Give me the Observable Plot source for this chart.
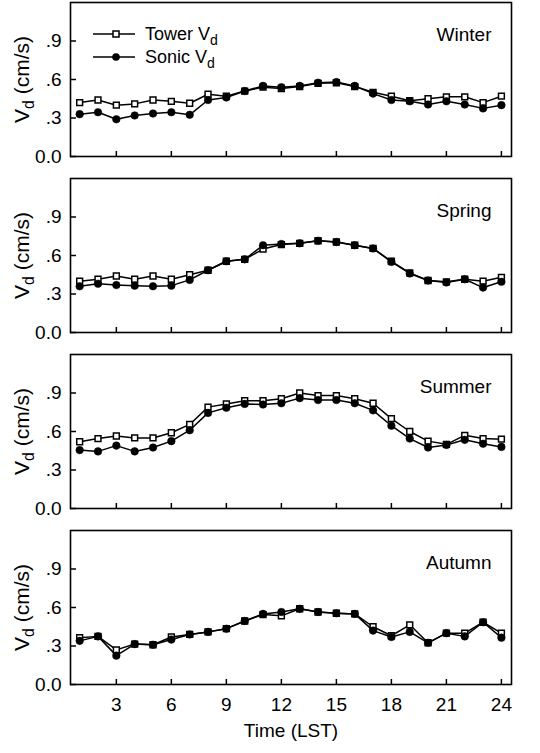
<!DOCTYPE html>
<html><head><meta charset="utf-8">
<script src="https://cdn.jsdelivr.net/npm/d3@7"></script>
<script src="https://cdn.jsdelivr.net/npm/@observablehq/plot@0.6"></script>
<style>
body{margin:0;background:#fff;}
#chart{position:relative;width:540px;}
#chart svg{display:block;}
</style></head><body><div id="chart"></div>
<script>
const hours = [1,2,3,4,5,6,7,8,9,10,11,12,13,14,15,16,17,18,19,20,21,22,23,24];
const seasons = ["Winter","Spring","Summer","Autumn"];
const towerWinter = [0.42,0.44,0.40,0.41,0.44,0.43,0.415,0.485,0.47,0.51,0.54,0.53,0.545,0.57,0.575,0.545,0.50,0.47,0.435,0.45,0.465,0.465,0.42,0.47];
const sonicWinter = [0.33,0.345,0.29,0.32,0.335,0.345,0.325,0.44,0.46,0.51,0.55,0.54,0.55,0.575,0.58,0.55,0.49,0.44,0.43,0.405,0.43,0.405,0.375,0.40];
const towerSpring = [0.40,0.415,0.44,0.415,0.44,0.415,0.45,0.485,0.555,0.57,0.65,0.685,0.695,0.715,0.705,0.68,0.655,0.555,0.465,0.405,0.395,0.415,0.40,0.43];
const sonicSpring = [0.36,0.38,0.37,0.365,0.36,0.365,0.41,0.485,0.555,0.57,0.68,0.69,0.695,0.715,0.705,0.68,0.655,0.55,0.46,0.405,0.39,0.415,0.35,0.395];
const towerSummer = [0.52,0.545,0.565,0.55,0.55,0.59,0.655,0.79,0.815,0.84,0.84,0.855,0.90,0.88,0.88,0.855,0.82,0.70,0.60,0.525,0.50,0.57,0.545,0.54];
const sonicSummer = [0.455,0.445,0.49,0.445,0.475,0.525,0.61,0.745,0.785,0.815,0.81,0.82,0.86,0.845,0.845,0.82,0.765,0.645,0.545,0.475,0.495,0.535,0.505,0.48];
const towerAutumn = [0.365,0.375,0.27,0.315,0.31,0.37,0.39,0.41,0.435,0.495,0.545,0.535,0.59,0.565,0.555,0.55,0.45,0.38,0.465,0.325,0.40,0.40,0.485,0.40];
const sonicAutumn = [0.34,0.375,0.225,0.315,0.31,0.35,0.39,0.41,0.435,0.495,0.55,0.565,0.59,0.565,0.555,0.55,0.42,0.37,0.41,0.325,0.40,0.375,0.485,0.365];
const yTicks = [0, 0.3, 0.6, 0.9];
const yTickLabels = ["0.0", ".3", ".6", ".9"];
const xTicks = [3,6,9,12,15,18,21,24];
const yLabel = "Vd (cm/s)";
const xLabel = "Time (LST)";
const legendLabels = ["Tower V", "Sonic V"];

const tower = {Winter: towerWinter, Spring: towerSpring, Summer: towerSummer, Autumn: towerAutumn};
const sonic = {Winter: sonicWinter, Spring: sonicSpring, Summer: sonicSummer, Autumn: sonicAutumn};
const font = "Arial, 'Liberation Sans', Helvetica, sans-serif";
const chart = document.getElementById("chart");

function subscriptify(svg) {
  svg.querySelectorAll("text").forEach(t => {
    if (t.textContent === yLabel) {
      while (t.firstChild) t.removeChild(t.firstChild);
      const ns = "http://www.w3.org/2000/svg";
      const a = document.createElementNS(ns, "tspan"); a.textContent = "V";
      const b = document.createElementNS(ns, "tspan"); b.textContent = "d";
      b.setAttribute("dy", "0.3em"); b.setAttribute("font-size", "0.75em");
      const c = document.createElementNS(ns, "tspan"); c.textContent = " (cm/s)";
      c.setAttribute("dy", "-0.25em");
      t.append(a, b, c);
    }
  });
}

seasons.forEach((season, i) => {
  const last = i === seasons.length - 1;
  const rows = hours.map((h, j) => ({hour: h, tower: tower[season][j], sonic: sonic[season][j]}));
  const svg = Plot.plot({
    width: 540,
    height: last ? 225 : 176,
    marginLeft: 70, marginRight: 29, marginTop: 2, marginBottom: last ? 69 : 20,
    style: {fontFamily: font, background: "#fff", color: "#000", overflow: "visible"},
    x: {domain: [0.5, 24.55]},
    y: {domain: [0, 1.2]},
    marks: [
      Plot.frame({stroke: "#000", strokeWidth: 1.6}),
      Plot.axisX({ticks: xTicks, tickSize: -5, tickPadding: 18, strokeWidth: 1.5,
        tickFormat: last ? (d => String(d)) : (() => ""), fontSize: 19,
        label: last ? xLabel : null, labelAnchor: "center", labelOffset: 52, labelArrow: "none"}),
      Plot.axisY({ticks: yTicks, tickSize: -6, tickPadding: 15, strokeWidth: 1.5,
        tickFormat: d => yTickLabels[yTicks.indexOf(d)], fontSize: 19, label: null}),
      Plot.text([yLabel], {frameAnchor: "left", dx: -48, rotate: -90, text: d => d, textAnchor: "middle", lineAnchor: "middle", fontSize: 21, fill: "#000"}),
      Plot.text([season], {frameAnchor: "top-right", dx: -20, dy: 32, text: d => d, textAnchor: "end", lineAnchor: "middle", fontSize: 19, fill: "#000"}),
      Plot.line(rows, {x: "hour", y: "tower", stroke: "#000", strokeWidth: 1.5}),
      Plot.line(rows, {x: "hour", y: "sonic", stroke: "#000", strokeWidth: 1.5}),
      Plot.dot(rows, {x: "hour", y: "tower", symbol: "square", r: 3.3, fill: "#fff", stroke: "#000", strokeWidth: 1.5}),
      Plot.dot(rows, {x: "hour", y: "sonic", symbol: "circle", r: 3.8, fill: "#000", stroke: "#000", strokeWidth: 0.5})
    ]
  });
  subscriptify(svg);
  if (i === 0) {
    const g = d3.select(svg).append("g").attr("font-family", font).attr("font-size", 18).attr("text-anchor", "start");
    const items = [
      {label: legendLabels[0], y: 34, square: true},
      {label: legendLabels[1], y: 57, square: false}
    ];
    items.forEach(it => {
      g.append("line").attr("x1", 93).attr("x2", 135).attr("y1", it.y).attr("y2", it.y)
        .attr("stroke", "#000").attr("stroke-width", 1.5);
      if (it.square) {
        g.append("rect").attr("x", 113).attr("y", it.y - 3).attr("width", 6).attr("height", 6)
          .attr("fill", "#fff").attr("stroke", "#000").attr("stroke-width", 1.5);
      } else {
        g.append("circle").attr("cx", 116).attr("cy", it.y).attr("r", 3.8).attr("fill", "#000");
      }
      const t = g.append("text").attr("x", 145).attr("y", it.y).attr("dy", "0.35em").attr("fill", "#000").attr("text-anchor", "start");
      t.append("tspan").text(it.label);
      t.append("tspan").text("d").attr("dy", "0.3em").attr("font-size", "0.78em");
    });
  }
  chart.appendChild(svg);
});
</script></body></html>
